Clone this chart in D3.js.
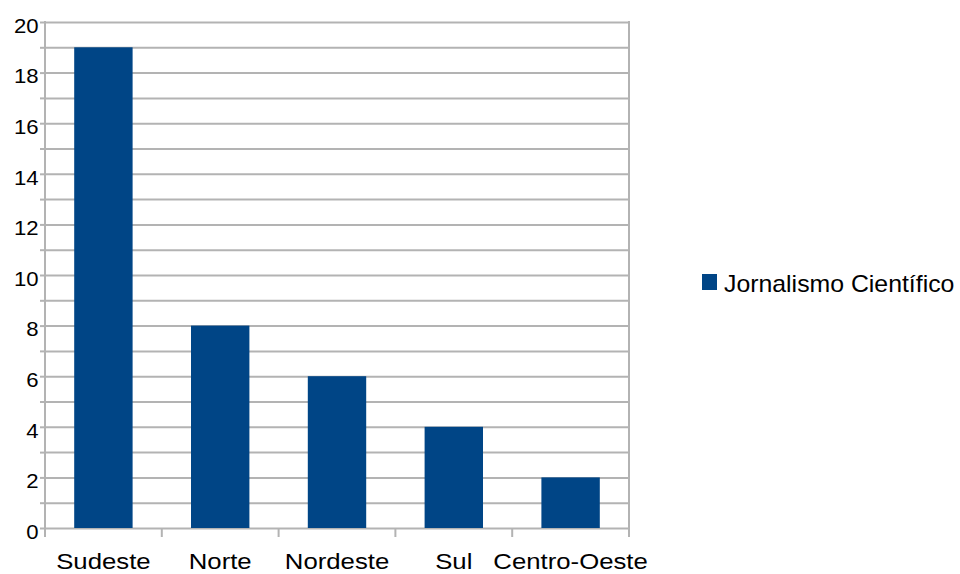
<!DOCTYPE html>
<html>
<head>
<meta charset="utf-8">
<script src="https://cdn.jsdelivr.net/npm/d3@7"></script>
<style>
  html, body { margin: 0; padding: 0; background: #fff; }
  svg { display: block; font-family: "Liberation Sans", Arial, Helvetica, sans-serif; }
</style>
</head>
<body>
<svg id="chart" width="960" height="574"></svg>
<script>
// Chart data
const categories = ["Sudeste", "Norte", "Nordeste", "Sul", "Centro-Oeste"];
const values = [19, 8, 6, 4, 2];
const seriesName = "Jornalismo Científico";
const gridValues = d3.range(0, 21);            // one gridline per unit
const yTickLabels = d3.range(0, 21, 2);        // labelled every 2 units

const barColor = "#004586";
const gridColor = "#b3b3b3";

const svg = d3.select("#chart");
const plot = { left: 45, right: 629, top: 22, bottom: 528 };

const x = d3.scaleBand()
  .domain(categories)
  .range([plot.left, plot.right])
  .paddingInner(0.5)
  .paddingOuter(0.25);

const y = d3.scaleLinear()
  .domain([0, 20])
  .range([plot.bottom, plot.top]);

// Horizontal gridlines across the plot
const grid = svg.append("g")
  .attr("transform", `translate(${plot.right},0)`)
  .call(d3.axisLeft(y).tickValues(gridValues).tickSize(plot.right - plot.left).tickFormat(""));
grid.select(".domain").remove();
grid.selectAll(".tick line").attr("stroke", gridColor).attr("stroke-width", 2);

// Value axis: short outside ticks, labels every 2 units
const yg = svg.append("g")
  .attr("transform", `translate(${plot.left},0)`)
  .call(d3.axisLeft(y)
    .tickValues(gridValues)
    .tickSize(5)
    .tickPadding(1)
    .tickFormat(d => yTickLabels.includes(d) ? d : ""));
yg.select(".domain").remove();
yg.selectAll(".tick line").attr("stroke", gridColor).attr("stroke-width", 2);
yg.selectAll(".tick text")
  .attr("fill", "#000")
  .attr("font-size", 20.5)
  .attr("dy", "0.5em")
  .attr("transform", "scale(1.08,1)");

// Vertical frame lines
svg.append("line")
  .attr("x1", plot.left).attr("x2", plot.left)
  .attr("y1", plot.top - 1).attr("y2", plot.bottom + 1)
  .attr("stroke", gridColor).attr("stroke-width", 2);
svg.append("line")
  .attr("x1", plot.right).attr("x2", plot.right)
  .attr("y1", plot.top - 1).attr("y2", plot.bottom)
  .attr("stroke", gridColor).attr("stroke-width", 2);

// Category separators below the baseline
const half = (x.step() - x.bandwidth()) / 2;
const bounds = categories.map(c => x(c) - half)
  .concat([x(categories[categories.length - 1]) + x.bandwidth() + half]);
svg.append("g").selectAll("line")
  .data(bounds)
  .join("line")
  .attr("x1", d => d).attr("x2", d => d)
  .attr("y1", plot.bottom).attr("y2", plot.bottom + 9)
  .attr("stroke", gridColor).attr("stroke-width", 2);

// Bars
svg.append("g").selectAll("rect")
  .data(categories)
  .join("rect")
  .attr("x", c => x(c))
  .attr("width", x.bandwidth())
  .attr("y", (c, i) => y(values[i]))
  .attr("height", (c, i) => y(0) - y(values[i]))
  .attr("fill", barColor);

// Category labels
const sx = 1.17;
svg.append("g").selectAll("text")
  .data(categories)
  .join("text")
  .attr("text-anchor", "middle")
  .attr("font-size", 22)
  .attr("fill", "#000")
  .attr("transform", c => `translate(${x(c) + x.bandwidth() / 2},569) scale(${sx},1)`)
  .text(c => c);

// Legend
const legend = svg.append("g").attr("transform", "translate(702,274)");
legend.append("rect")
  .attr("width", 15).attr("height", 16)
  .attr("fill", barColor);
legend.append("text")
  .attr("transform", "translate(22,18) scale(1.08,1)")
  .attr("font-size", 23)
  .attr("fill", "#000")
  .text(seriesName);
</script>
</body>
</html>
